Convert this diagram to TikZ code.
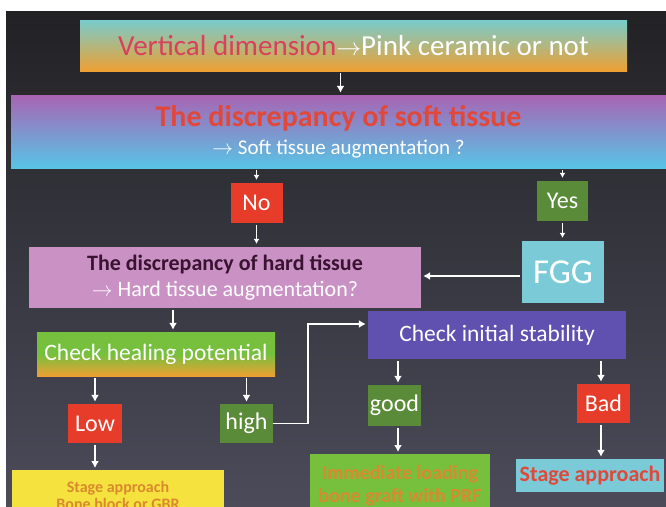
\documentclass[tikz,border=0pt]{standalone}
\usepackage{fontspec}
\setmainfont{Carlito}
\usetikzlibrary{arrows.meta}

\definecolor{bgtop}{HTML}{222225}
\definecolor{bgbot}{HTML}{4B4B5A}
\definecolor{boxred}{HTML}{E63C29}
\definecolor{boxgreen}{HTML}{5A8B38}
\definecolor{lime}{HTML}{76C03E}
\definecolor{peach}{HTML}{EEA032}
\definecolor{teal}{HTML}{78CCCC}
\definecolor{mauve}{HTML}{A864B4}
\definecolor{sky}{HTML}{58C4E6}
\definecolor{pinkbox}{HTML}{CA92C4}
\definecolor{fggblue}{HTML}{7ACAD8}
\definecolor{violet}{HTML}{6050B0}
\definecolor{sun}{HTML}{F6E23E}
\definecolor{rosetext}{HTML}{D8405C}
\definecolor{redtext}{HTML}{E2483A}
\definecolor{plum}{HTML}{3A1232}
\definecolor{ochre}{HTML}{D98A2E}

\tikzset{
	box/.style={inner sep=0pt, text=white, align=center},
	arr/.style={draw=white, line width=1.8pt, -{Latex[length=7pt,width=8pt]}, shorten <=2pt, shorten >=2pt},
	smallarr/.style={draw=white, line width=1.4pt, -{Latex[length=5pt,width=6pt]}, shorten <=2pt, shorten >=3pt}
}

\begin{document}
\begin{tikzpicture}[x=1pt,y=-1pt]
	\useasboundingbox (0,0) rectangle (666,506);
	\clip (0,0) rectangle (666,506);
	\fill[white] (0,0) rectangle (666,506);
	\shade[top color=bgtop, bottom color=bgbot] (6,11) rectangle (666,506);
	
	\node[box, top color=teal, bottom color=peach, middle color=teal!50!peach, minimum width=547pt, minimum height=51pt, font=\fontsize{29}{32}\selectfont] (vert) at (353.5, 45.5) {\textcolor{rosetext}{Vertical dimension}$\rightarrow$Pink ceramic or not};
	\node[box, top color=mauve, bottom color=sky, minimum width=655pt, minimum height=73pt] (soft) at (338.5, 131.5) {{\fontsize{30}{32}\selectfont\bfseries\textcolor{redtext}{The discrepancy of soft tissue}}\\[8pt]{\fontsize{21}{24}\selectfont $\rightarrow$ Soft tissue augmentation ?}};
	
	\node[box, fill=boxred, minimum width=52pt, minimum height=40pt, font=\fontsize{24}{26}\selectfont] (no) at (256.5, 203) {No};
	\node[box, fill=boxgreen, minimum width=51pt, minimum height=40pt, font=\fontsize{24}{26}\selectfont] (yes) at (562.5, 201) {Yes};
	
	\node[box, fill=pinkbox, minimum width=392pt, minimum height=61pt, font=\fontsize{22}{26}\selectfont] (hard) at (225, 277.5) {\textcolor{plum}{\bfseries The discrepancy of hard tissue}\\$\rightarrow$ Hard tissue augmentation?};
	\node[box, fill=fggblue, minimum width=82pt, minimum height=62pt, font=\fontsize{35}{38}\selectfont] (fgg) at (563, 272) {FGG};
	
	\node[box, top color=lime, bottom color=peach, middle color=lime, minimum width=238pt, minimum height=44pt, font=\fontsize{23.5}{26}\selectfont] (heal) at (156, 354) {Check healing potential};
	\node[box, fill=violet, minimum width=258pt, minimum height=48pt, font=\fontsize{23.5}{26}\selectfont] (stab) at (497, 335) {Check initial stability};
	
	\node[box, fill=boxred, minimum width=54pt, minimum height=39pt, font=\fontsize{24}{26}\selectfont] (low) at (95, 423.5) {Low};
	\node[box, fill=boxgreen, minimum width=53pt, minimum height=39pt, font=\fontsize{24}{26}\selectfont] (high) at (246.5, 423.5) {high};
	\node[box, fill=boxgreen, minimum width=53pt, minimum height=41pt, font=\fontsize{24}{26}\selectfont] (good) at (394.5, 405.5) {good};
	\node[box, fill=boxred, minimum width=53pt, minimum height=39pt, font=\fontsize{24}{26}\selectfont] (bad) at (603.5, 403.5) {Bad};
	
	\node[box, fill=sun, text=ochre, minimum width=212pt, minimum height=50pt, font=\fontsize{16}{17}\selectfont\bfseries, anchor=north] (stagelow) at (118, 470) {Stage approach\\Bone block or GBR};
	\node[box, fill=lime, text=ochre, minimum width=180pt, minimum height=62pt, font=\fontsize{20}{23}\selectfont\bfseries, anchor=north] (immed) at (400, 454) {Immediate loading\\bone graft with PRF};
	\node[box, fill=fggblue, text=redtext, minimum width=148pt, minimum height=33pt, font=\fontsize{22}{24}\selectfont\bfseries] (stagebad) at (590, 475.5) {Stage approach};
	
	\draw[arr] ([xshift=-13pt]vert.south) -- ([xshift=-13pt]vert.south |- soft.north);
	\draw[smallarr] (soft.south -| no) -- (no);
	\draw[smallarr] (soft.south -| yes) -- (yes);
	\draw[smallarr] (no) -- (no |- hard.north);
	\draw[smallarr] (yes) -- (yes |- fgg.north);
	\draw[arr] ([yshift=-4pt]fgg.west) -- ([yshift=-4pt]fgg.west -| hard.east);
	\draw[arr] ([xshift=-52pt]hard.south) -- ([xshift=-52pt]hard.south |- heal.north);
	\draw[arr] (heal.south -| low) -- (low);
	\draw[arr] (heal.south -| high) -- (high);
	\draw[arr, shorten <=0pt] (high.east) -- ++(35,0) |- ([yshift=11pt]stab.west);
	\draw[arr] ([xshift=3.5pt]stab.south -| good) -- ([xshift=3.5pt]good.north);
	\draw[arr] ([xshift=-2.5pt]stab.south -| bad) -- ([xshift=-2.5pt]bad.north);
	\draw[arr] (low) -- (low |- stagelow.north);
	\draw[arr] ([xshift=3.5pt]good.south) -- ([xshift=3.5pt]good.south |- immed.north);
	\draw[arr] ([xshift=-2.5pt]bad.south) -- ([xshift=-2.5pt]bad.south |- stagebad.north);
	
\end{tikzpicture}
\end{document}
